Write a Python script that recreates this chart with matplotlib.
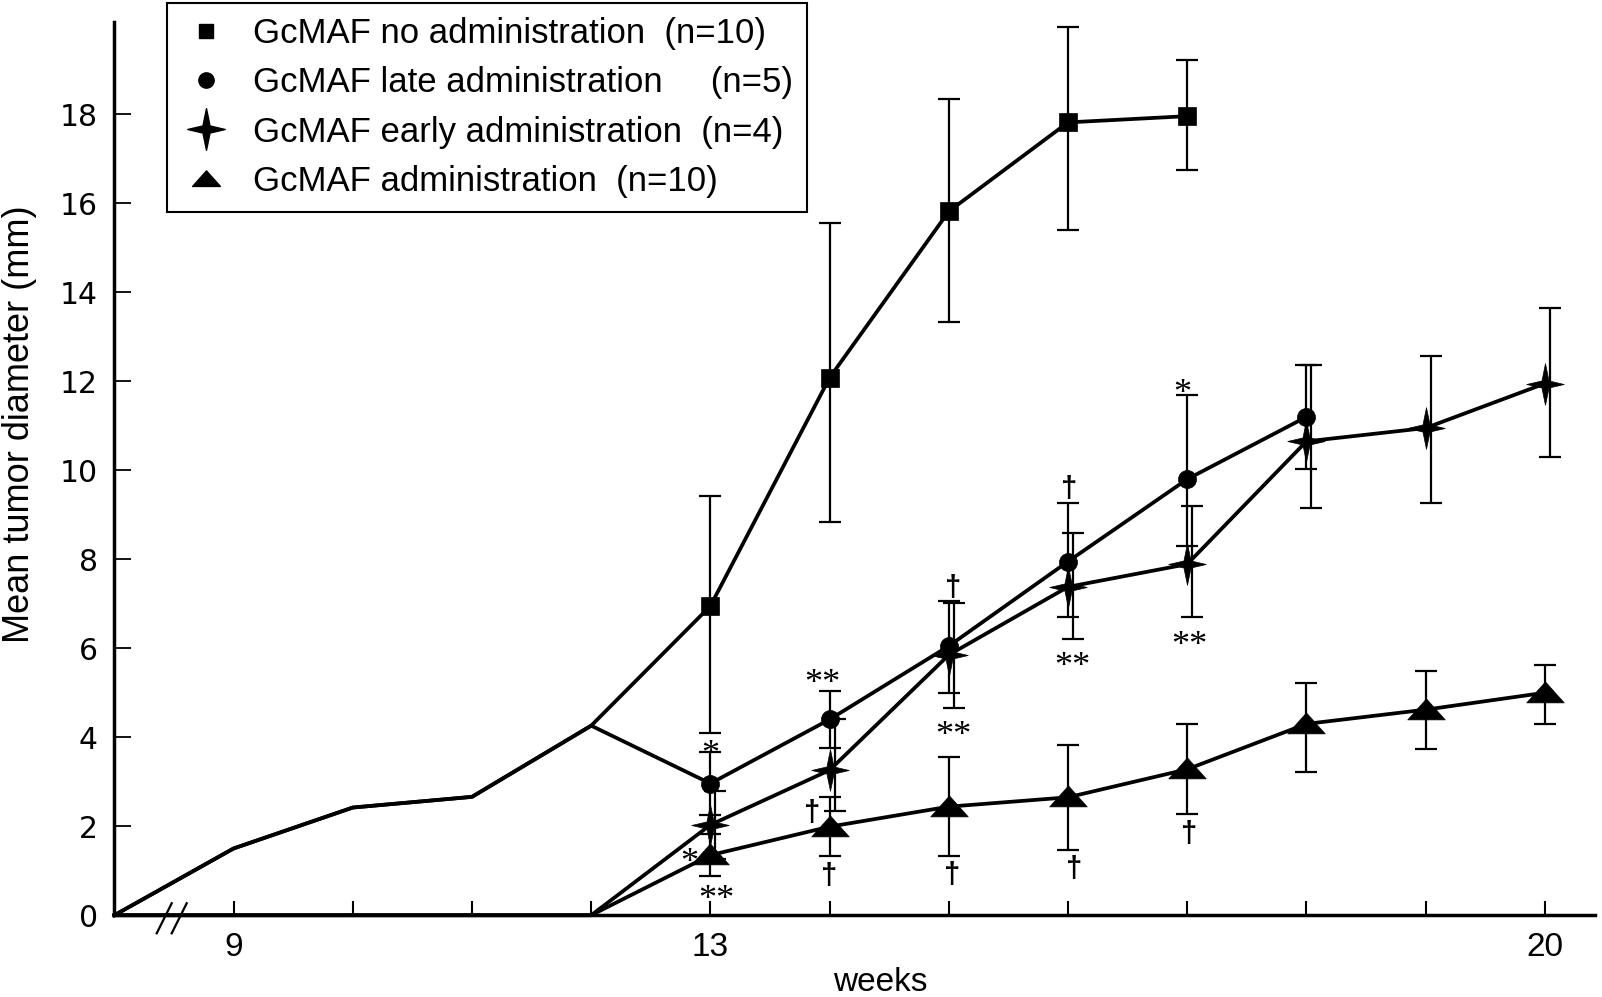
import matplotlib
matplotlib.use("Agg")
import matplotlib.pyplot as plt
from matplotlib.path import Path
from matplotlib.lines import Line2D
from matplotlib.transforms import ScaledTranslation

# ---------------- data ----------------
pre_weeks = [8, 9, 10, 11, 12]
pre_untreated = [0.0, 1.50, 2.42, 2.66, 4.26]   # common start of "no" and "late" groups
pre_treated = [0.0, 0.0, 0.0, 0.0, 0.0]         # common start of "early" and "administration" groups

weeks_no = [13, 14, 15, 16, 17]
no_admin = [6.95, 12.08, 15.82, 17.82, 17.96]
no_admin_lo = [2.86, 3.24, 2.49, 2.43, 1.22]
no_admin_hi = [2.47, 3.47, 2.53, 2.14, 1.27]

weeks_late = [13, 14, 15, 16, 17, 18]
late_admin = [2.96, 4.40, 6.05, 7.95, 9.80, 11.20]
late_lo = [0.70, 0.65, 1.05, 1.24, 1.50, 1.17]
late_hi = [0.71, 0.65, 1.01, 1.31, 1.89, 1.17]

weeks_early = [13, 14, 15, 16, 17, 18, 19, 20]
early_admin = [2.03, 3.26, 5.85, 7.38, 7.89, 10.65, 10.95, 11.95]
early_lo = [0.77, 0.92, 1.20, 1.17, 1.18, 1.49, 1.69, 1.66]
early_hi = [0.77, 1.15, 1.16, 1.20, 1.31, 1.72, 1.63, 1.69]

weeks_adm = [13, 14, 15, 16, 17, 18, 19, 20]
admin = [1.35, 1.99, 2.44, 2.65, 3.28, 4.30, 4.62, 5.00]
admin_lo = [0.48, 0.67, 1.12, 1.18, 1.01, 1.08, 0.89, 0.71]
admin_hi = [0.48, 0.67, 1.12, 1.18, 1.02, 0.93, 0.88, 0.63]

labels = ["GcMAF no administration  (n=10)",
          "GcMAF late administration     (n=5)",
          "GcMAF early administration  (n=4)",
          "GcMAF administration  (n=10)"]

yticks = [0, 2, 4, 6, 8, 10, 12, 14, 16, 18]
xticks = [9, 10, 11, 12, 13, 14, 15, 16, 17, 18, 19, 20]
xticklabels = ["9", "", "", "", "13", "", "", "", "", "", "", "20"]

ann_x = [13.00, 12.82, 13.05, 13.94, 13.855, 14.00, 15.04, 15.04, 15.03, 16.01, 16.04, 16.05, 16.96, 17.02, 17.02]
ann_y = [3.79, 1.35, 0.53, 5.37, 2.33, 0.90, 7.38, 4.20, 0.92, 9.60, 5.76, 1.06, 11.89, 6.22, 1.84]
ann_txt = ["*", "*", "**", "**", "\u2020", "\u2020", "\u2020", "**", "\u2020", "\u2020", "**", "\u2020", "*", "**", "\u2020"]

# ---------------- markers ----------------
w = 0.17
star_path = Path([(0, 1), (w, w), (0.9, 0), (w, -w), (0, -1), (-w, -w), (-0.9, 0), (-w, w), (0, 1)],
                 [Path.MOVETO] + [Path.LINETO] * 7 + [Path.CLOSEPOLY])
tri_path = Path([(0, 0.62), (1, -0.5), (-1, -0.5), (0, 0.62)],
                [Path.MOVETO, Path.LINETO, Path.LINETO, Path.CLOSEPOLY])

# ---------------- figure ----------------
W_PX, H_PX = 1602, 997
fig = plt.figure(figsize=(W_PX / 100, H_PX / 100), dpi=100)
x0, x1 = 114.4, 1595.0
y0, y1 = 915.2, 22.5
ax = fig.add_axes([x0 / W_PX, 1 - y0 / H_PX, (x1 - x0) / W_PX, (y0 - y1) / H_PX])
ax.set_xlim(8, 8 + (x1 - x0) / 119.2)
ax.set_ylim(0, (y0 - y1) / 44.49)

LW = 2.7
EW = 1.6
CAP = 8

def series(pre, weeks, vals, lo, hi, marker, ms, z, eb_shift=0.0):
    xs = pre_weeks + weeks
    ys = pre + vals
    ax.plot(xs, ys, color="black", lw=LW, marker=marker, ms=ms, mfc="black", mec="black",
            mew=0.5, markevery=list(range(len(pre_weeks), len(xs))), clip_on=False,
            zorder=z, solid_joinstyle="round")
    eb = ax.errorbar(weeks, vals, yerr=[lo, hi], fmt="none", ecolor="black", elinewidth=EW,
                     capsize=CAP, capthick=EW, clip_on=False, zorder=1.5)
    if eb_shift:
        off = ax.transData + ScaledTranslation(eb_shift / 100.0, 0, fig.dpi_scale_trans)
        for art in list(eb.lines[1]) + list(eb.lines[2]):
            art.set_transform(off)

series(pre_untreated, weeks_no, no_admin, no_admin_lo, no_admin_hi, "s", 13, 3)
series(pre_untreated, weeks_late, late_admin, late_lo, late_hi, "o", 13, 3)
series(pre_treated, weeks_early, early_admin, early_lo, early_hi, star_path, 30, 3.2, eb_shift=5)
series(pre_treated, weeks_adm, admin, admin_lo, admin_hi, tri_path, 27, 3.1)

# annotations (significance marks)
for x, y, t in zip(ann_x, ann_y, ann_txt):
    if "*" in t:
        tr = ax.transData + ScaledTranslation(0, -17 / 100.0, fig.dpi_scale_trans)
        ax.text(x, y, t, transform=tr, ha="center", va="baseline", fontsize=26,
                family=["Liberation Serif", "DejaVu Serif"], zorder=5)
    else:
        tr = ax.transData + ScaledTranslation(0, -9 / 100.0, fig.dpi_scale_trans)
        ax.text(x, y, t, transform=tr, ha="center", va="baseline", fontsize=21,
                fontweight="bold", family=["Liberation Sans", "DejaVu Sans"], zorder=5)

# axes styling
for s in ["top", "right"]:
    ax.spines[s].set_visible(False)
for s in ["left", "bottom"]:
    ax.spines[s].set_linewidth(2.5)

ax.set_yticks(yticks)
ax.set_yticklabels([str(v) for v in yticks])
ax.set_xticks(xticks)
ax.set_xticklabels(xticklabels)
ax.tick_params(axis="y", direction="in", length=12, width=1.3, pad=12, labelsize=21.5)
ax.tick_params(axis="x", direction="in", length=10, width=1.5, pad=12, labelsize=24)
for lab in ax.get_yticklabels():
    lab.set_family("DejaVu Sans")
for lab in ax.get_xticklabels():
    lab.set_family("Liberation Sans")

# axis break marks
for xa, xb in [(156.7, 171.7), (171.7, 186.7)]:
    fig.add_artist(Line2D([xa / W_PX, xb / W_PX], [1 - 933.3 / H_PX, 1 - 903.3 / H_PX],
                          transform=fig.transFigure, color="black", lw=1.6))

# axis labels
fig.text(20 / W_PX, 1 - 424 / H_PX, "Mean tumor diameter (mm)", rotation=90, ha="center",
         va="center", fontsize=26, family=["Liberation Sans", "DejaVu Sans"])
fig.text(880 / W_PX, 1 - 991 / H_PX, "weeks", ha="center", va="baseline", fontsize=24,
         family=["Liberation Sans", "DejaVu Sans"])

# legend
handles = [
    Line2D([], [], ls="none", marker="s", ms=10, color="black"),
    Line2D([], [], ls="none", marker="o", ms=11, color="black"),
    Line2D([], [], ls="none", marker=star_path, ms=30, color="black"),
    Line2D([], [], ls="none", marker=tri_path, ms=20, color="black"),
]
leg = ax.legend(handles, labels, loc="upper left", bbox_to_anchor=(166.5 / W_PX, 1 - 3 / H_PX),
                bbox_transform=fig.transFigure, frameon=True, fancybox=False, edgecolor="black",
                framealpha=1, borderpad=0.4, handlelength=1.45, handletextpad=0.63,
                labelspacing=0.47, borderaxespad=0,
                prop={"family": ["Liberation Sans", "DejaVu Sans"], "size": 25})
leg.get_frame().set_linewidth(1.5)
leg.set_zorder(10)

fig.savefig("out.png", dpi=100)
